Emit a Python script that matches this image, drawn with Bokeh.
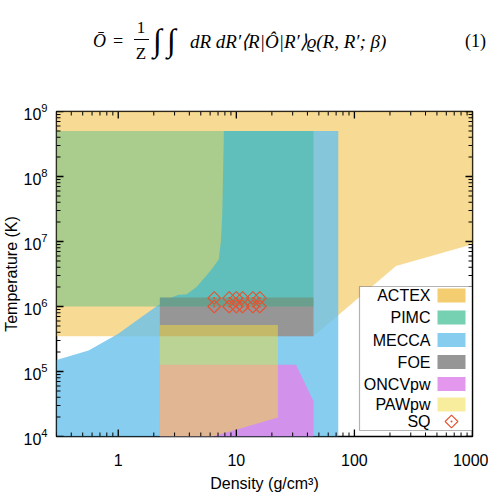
import numpy as np
from math import log10
from bokeh.plotting import figure
from bokeh.models import (FixedTicker, LogTickFormatter, BoxAnnotation, Label, Range1d, Div)
from bokeh.layouts import column
from bokeh.embed import file_html
from bokeh.resources import INLINE

# ---------------- data (density g/cm3, temperature K) ----------------
actex_density = [0.3, 1000, 1000, 225, 45, 0.3]
actex_temp = [1e9, 1e9, 9.1e6, 4.2e6, 3.5e5, 3.5e5]

mecca_density = [0.3, 73, 73, 7.85, 7.6, 7.4, 7.1, 6.0, 4.6, 3.8, 3.2, 2.9, 2.1, 1.5, 1.0, 0.56, 0.3]
mecca_temp = [1e4, 1e4, 5e8, 5e8, 2.6e7, 1e7, 5.3e6, 3.5e6, 2.0e6, 1.55e6, 1.5e6, 1.4e6, 1.0e6, 6.5e5, 3.8e5, 2.1e5, 1.5e5]

foe_density = [2.25, 45, 45, 2.25]
foe_temp = [3.5e5, 3.5e5, 1.37e6, 1.37e6]

oncv_density = [2.25, 45, 45, 32, 2.25]
oncv_temp = [1e4, 1e4, 3.5e4, 1.27e5, 1.27e5]

paw_density = [2.25, 6.3, 22.5, 22.5, 2.25]
paw_temp = [1e4, 1e4, 1.96e4, 5.2e5, 5.2e5]

pimc_density = [0.3, 45, 45, 0.3]
pimc_temp = [1e6, 1e6, 5e8, 5e8]

sq_density = [6.5, 8.7, 10.0, 11.3, 13.8, 15.8, 6.5, 8.7, 10.0, 11.3, 13.8, 15.8]
sq_temp = [1.35e6, 1.35e6, 1.35e6, 1.35e6, 1.35e6, 1.35e6, 1.0e6, 1.0e6, 1.0e6, 1.0e6, 1.0e6, 1.0e6]

x_major = [1, 10, 100, 1000]
y_major = [1e4, 1e5, 1e6, 1e7, 1e8, 1e9]
legend_labels = ["ACTEX", "PIMC", "MECCA", "FOE", "ONCVpw", "PAWpw", "SQ"]

# ---------------- styles ----------------
C_ACTEX, A_ACTEX = "#F4CD70", 0.75
C_MECCA, A_MECCA = "#69C0EC", 0.8
C_FOE, A_FOE = "#969696", 1.0
C_ONCV, A_ONCV = "#DF86EA", 0.85
C_PAW, A_PAW = "#F0DC3C", 0.5
C_PIMC, A_PIMC = "#1AB17F", 0.35
C_SQ = "#E8502F"
FONT = "Liberation Sans"

XMIN, XMAX, YMIN, YMAX = 0.3, 1000, 1e4, 1e9

# ---------------- equation strip (HTML text) ----------------
def span(left, cy, text, size, italic=False, center=False):
    tx = "-50%" if center else "0"
    st = "italic" if italic else "normal"
    return (f'<span style="position:absolute;left:{left}px;top:{cy}px;font-size:{size}px;'
            f'line-height:1;font-style:{st};white-space:nowrap;transform:translate({tx},-50%);">{text}</span>')


eq_html = (
    '<div style="position:relative;width:488px;height:90px;overflow:hidden;'
    'font-family:\'Liberation Serif\',serif;color:black;background:white;">'
    + span(93, 41, "Ō", 18, True)
    + span(113, 41, "=", 18)
    + span(141, 27, "1", 17, center=True)
    + '<span style="position:absolute;left:134px;top:39px;width:15px;height:0;border-top:1px solid black;"></span>'
    + span(141, 53, "Z", 17, center=True)
    + span(153, 40, "∫", 32, True)
    + span(167, 40, "∫", 32, True)
    + span(190, 41, "dR dR′⟨R|Ô|R′⟩ϱ(R, R′; β)", 19, True)
    + span(465, 41, "(1)", 18)
    + '</div>'
)
eq = Div(text=eq_html, width=488, height=90, margin=(0, 0, 0, 0))

# ---------------- main chart ----------------
p = figure(width=488, height=407, x_axis_type="log", y_axis_type="log",
           x_range=Range1d(XMIN, XMAX), y_range=Range1d(YMIN, YMAX),
           output_backend="svg", toolbar_location=None, margin=(0, 0, 0, 0),
           min_border_left=56, min_border_right=16, min_border_top=21, min_border_bottom=61)
p.grid.visible = False
p.outline_line_color = "black"
p.outline_line_width = 1.5
p.background_fill_color = "white"
p.border_fill_color = "white"

# ---------------- regions ----------------
p.patch(actex_density, actex_temp, fill_color=C_ACTEX, fill_alpha=A_ACTEX, line_color=None)
p.patch(mecca_density, mecca_temp, fill_color=C_MECCA, fill_alpha=A_MECCA, line_color=None)
p.patch(foe_density, foe_temp, fill_color=C_FOE, fill_alpha=A_FOE, line_color=None)
p.patch(oncv_density, oncv_temp, fill_color=C_ONCV, fill_alpha=A_ONCV, line_color=None)
p.patch(paw_density, paw_temp, fill_color=C_PAW, fill_alpha=A_PAW, line_color=None)
p.patch(pimc_density, pimc_temp, fill_color=C_PIMC, fill_alpha=A_PIMC, line_color=None)
p.scatter(sq_density, sq_temp, marker="square", angle=np.pi / 4, size=9,
          fill_color=None, line_color=C_SQ, line_width=1.1)
p.scatter(sq_density, sq_temp, marker="circle", size=2, fill_color=C_SQ, line_color=None)

# ---------------- pixel helpers (frame geometry) ----------------
FX0, FX1, FY0, FY1 = 56.0, 472.0, 111.0, 436.0


def px2x(px):
    f = (px - FX0) / (FX1 - FX0)
    return 10 ** (log10(XMIN) + f * (log10(XMAX) - log10(XMIN)))


def py2y(py):
    f = (py - FY0) / (FY1 - FY0)
    return 10 ** (log10(YMAX) - f * (log10(YMAX) - log10(YMIN)))


def x2px(x):
    return FX0 + (log10(x) - log10(XMIN)) / (log10(XMAX) - log10(XMIN)) * (FX1 - FX0)


def y2py(y):
    return FY0 + (log10(YMAX) - log10(y)) / (log10(YMAX) - log10(YMIN)) * (FY1 - FY0)


# ---------------- ticks (inward, on all four sides) as thin boxes ----------------
x_minor = [m * 10.0 ** e for e in (-1, 0, 1, 2) for m in range(2, 10) if m * 10.0 ** e > XMIN]
y_minor = [m * 10.0 ** e for e in (4, 5, 6, 7, 8) for m in range(2, 10)]


def tick_box(**kw):
    p.add_layout(BoxAnnotation(fill_color="black", fill_alpha=1, line_color=None, **kw))


for xs, ln, w in ((x_major, 7, 1.3), (x_minor, 4, 1.0)):
    for x in xs:
        tx = x2px(x)
        l, r = px2x(tx - w / 2), px2x(tx + w / 2)
        tick_box(left=l, right=r, bottom=YMIN, top=py2y(FY1 - ln))
        tick_box(left=l, right=r, bottom=py2y(FY0 + ln), top=YMAX)
for ys, ln, w in ((y_major, 7, 1.3), (y_minor, 4, 1.0)):
    for y in ys:
        ty = y2py(y)
        b, t = py2y(ty + w / 2), py2y(ty - w / 2)
        tick_box(left=XMIN, right=px2x(FX0 + ln), bottom=b, top=t)
        tick_box(left=px2x(FX1 - ln), right=XMAX, bottom=b, top=t)


def style_axis(ax):
    ax.major_tick_in = 0
    ax.major_tick_out = 0
    ax.minor_tick_in = 0
    ax.minor_tick_out = 0
    ax.axis_line_color = None
    ax.major_label_text_font = FONT
    ax.major_label_text_font_size = "16px"
    ax.major_label_text_color = "black"
    ax.axis_label_text_font = FONT
    ax.axis_label_text_font_size = "16px"
    ax.axis_label_text_font_style = "normal"
    ax.axis_label_text_color = "black"


xb = p.xaxis[0]
xb.ticker = FixedTicker(ticks=x_major, minor_ticks=x_minor)
xb.formatter = LogTickFormatter(min_exponent=4)
xb.axis_label = "Density (g/cm³)"
style_axis(xb)
xb.major_label_standoff = 17
xb.axis_label_standoff = 6

yl = p.yaxis[0]
yl.ticker = FixedTicker(ticks=y_major, minor_ticks=y_minor)
yl.formatter = LogTickFormatter()
yl.axis_label = "Temperature (K)"
style_axis(yl)
yl.major_label_standoff = 9
yl.axis_label_standoff = 0

# ---------------- legend (drawn inside the frame) ----------------
p.add_layout(BoxAnnotation(left=px2x(359), right=px2x(471.5), top=py2y(286), bottom=py2y(430),
                           fill_color="white", fill_alpha=1, line_color="black", line_width=1.2))
row_px = [295, 317, 339.5, 361.5, 383.5, 404, 421]
sw_colors = [C_ACTEX, C_PIMC, C_MECCA, C_FOE, C_ONCV, C_PAW]
sw_alpha = [1.0, 0.6, 0.8, 1.0, 0.85, 0.5]
for i, lab in enumerate(legend_labels):
    rc = row_px[i]
    if i < 6:
        p.add_layout(BoxAnnotation(left=px2x(437), right=px2x(465), top=py2y(rc - 7), bottom=py2y(rc + 7),
                                   fill_color=sw_colors[i], fill_alpha=sw_alpha[i], line_color=None))
    p.add_layout(Label(x=px2x(430), y=py2y(rc), text=lab, text_font=FONT, text_font_size="16px",
                       text_align="right", text_baseline="middle", text_color="black"))
r1 = p.scatter([px2x(451)], [py2y(421)], marker="square", angle=np.pi / 4, size=9,
               fill_color=None, line_color=C_SQ, line_width=1.1)
r2 = p.scatter([px2x(451)], [py2y(421)], marker="circle", size=2, fill_color=C_SQ, line_color=None)
r1.level = "overlay"
r2.level = "overlay"

layout = column(eq, p, spacing=0)
open("out.html", "w").write(file_html(layout, INLINE))
